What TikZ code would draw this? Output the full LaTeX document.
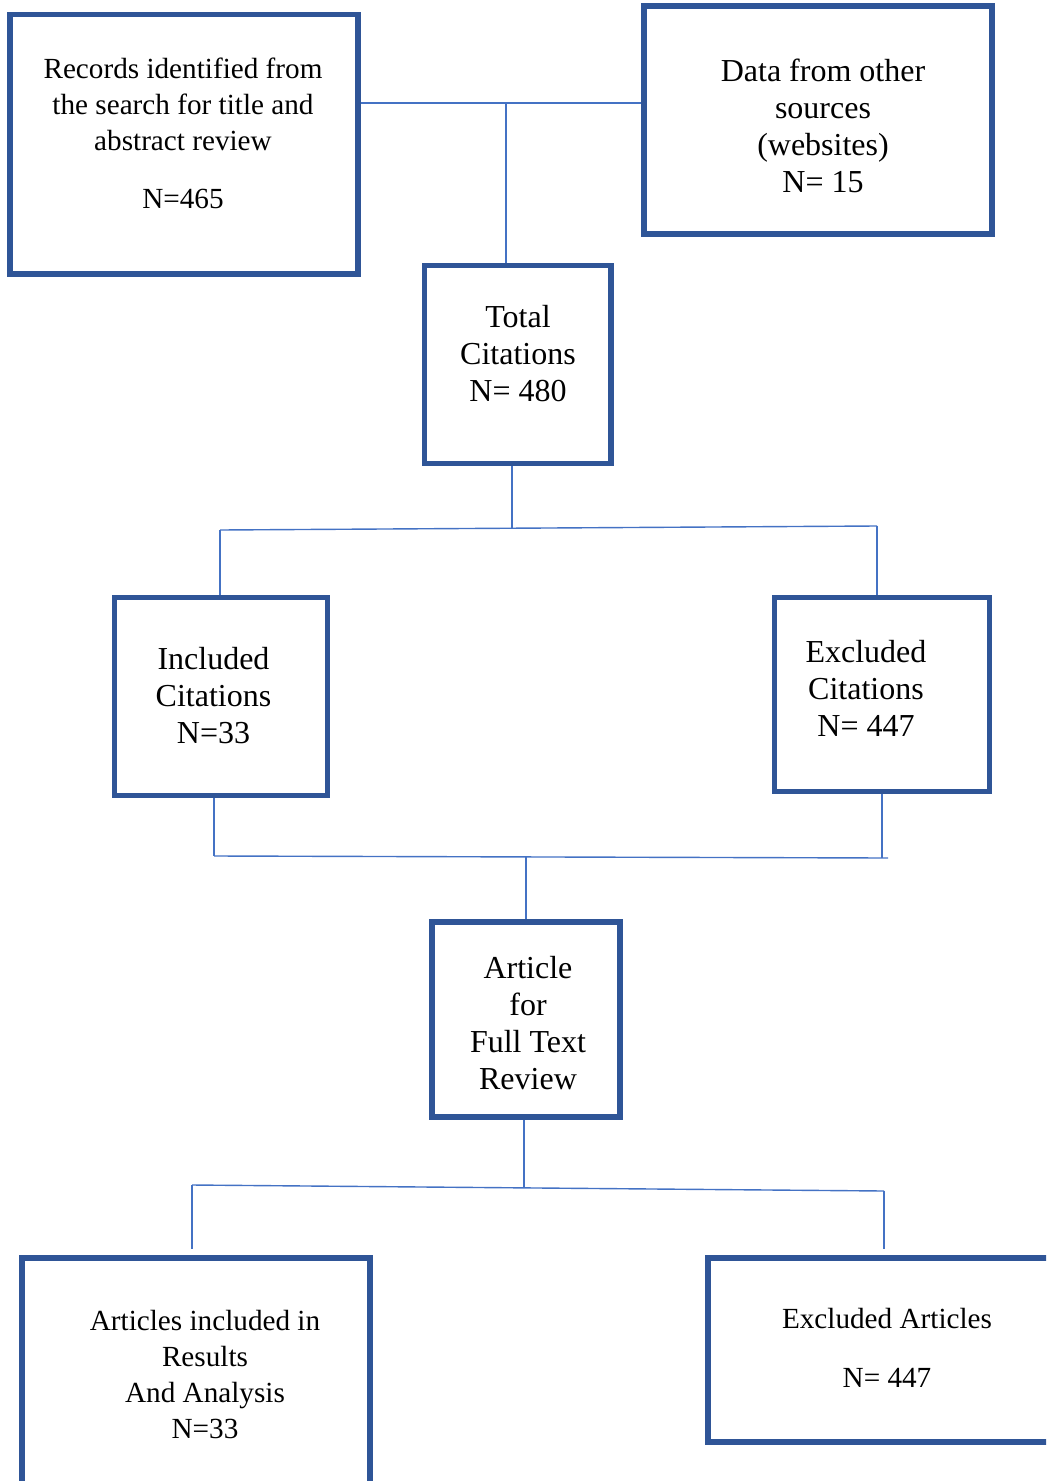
\documentclass[tikz,border=0pt]{standalone}
\usepackage{fontspec}
\setmainfont{Liberation Serif}
\definecolor{boxblue}{HTML}{2F5597}
\definecolor{linkblue}{HTML}{4472C4}
\tikzset{
  box/.style={draw=boxblue, line width=2.7pt, inner sep=0pt},
  link/.style={draw=linkblue, line width=0.7pt},
  bigtxt/.style={align=center, inner sep=0pt, font=\fontsize{16}{18.5}\selectfont},
  smalltxt/.style={align=center, inner sep=0pt, font=\fontsize{14.6}{18}\selectfont}
}
\begin{document}
\begin{tikzpicture}[x=0.5pt, y=-0.5pt]
  \useasboundingbox (0,0) rectangle (1046,1481);
  \clip (0,0) rectangle (1046,1481);
  % boxes (the bottom row runs off the page)
  \node[box, minimum width=174pt, minimum height=129.75pt] (rec) at (184,144.25) {};
  \node[box, minimum width=174pt, minimum height=114pt] (data) at (818,120) {};
  \node[box, minimum width=93.25pt, minimum height=99pt] (total) at (517.75,364.5) {};
  \node[box, minimum width=106.5pt, minimum height=99pt] (incl) at (221,696.5) {};
  \node[box, minimum width=107.5pt, minimum height=97pt] (exclc) at (882,694.5) {};
  \node[box, minimum width=94pt, minimum height=97.5pt] (art) at (526,1019.5) {};
  \node[box, minimum width=174pt, minimum height=121pt] (artinc) at (196,1379) {};
  \node[box, minimum width=176pt, minimum height=92pt] (exclart) at (884,1350) {};
  % texts
  \node[smalltxt] (rec-t) at (183,133) {Records identified from\\the search for title and\\abstract review\\[11pt]N=465};
  \node[bigtxt] (data-t) at (823,125.5) {Data from other\\sources\\(websites)\\N= 15};
  \node[bigtxt] (total-t) at (518,353.5) {Total\\Citations\\N= 480};
  \node[bigtxt] (incl-t) at (213.5,696) {Included\\Citations\\N=33};
  \node[bigtxt] (exclc-t) at (866,688) {Excluded\\Citations\\N= 447};
  \node[bigtxt] (art-t) at (528,1023.5) {Article\\for\\Full Text\\Review};
  \node[smalltxt] (artinc-t) at (205,1374) {Articles included in\\Results\\And Analysis\\N=33};
  \node[smalltxt] (exclart-t) at (887,1347.5) {Excluded Articles\\[11.5pt]N= 447};
  % junction points
  \coordinate (top-j) at (506,103);
  \coordinate (m2) at (512,528);
  \coordinate (s2l) at (220,530);
  \coordinate (s2r) at (877,526);
  \coordinate (s3l) at (214,856);
  \coordinate (s3r) at (888,858);
  \coordinate (m3) at (526,857);
  \coordinate (m4) at (524,1187);
  \coordinate (s4l) at (192,1185);
  \coordinate (s4r) at (884,1191);
  % connectors
  \draw[link] (rec.east |- top-j) -- (data.west |- top-j);
  \draw[link] (top-j) -- (top-j |- total.north);
  \draw[link] (total.south -| m2) -- (m2);
  \draw[link] (s2l) -- (s2r);
  \draw[link] (s2l) -- (s2l |- incl.north);
  \draw[link] (s2r) -- (s2r |- exclc.north);
  \draw[link] (incl.south -| s3l) -- (s3l);
  \draw[link] (exclc.south) -- (exclc.south |- s3r);
  \draw[link] (s3l) -- (s3r);
  \draw[link] (m3) -- (art.north);
  \draw[link] (art.south -| m4) -- (m4);
  \draw[link] (s4l) -- (s4r);
  \draw[link, shorten >=3pt] (s4l) -- (s4l |- artinc.north);
  \draw[link, shorten >=3pt] (s4r) -- (s4r |- exclart.north);
\end{tikzpicture}
\end{document}
